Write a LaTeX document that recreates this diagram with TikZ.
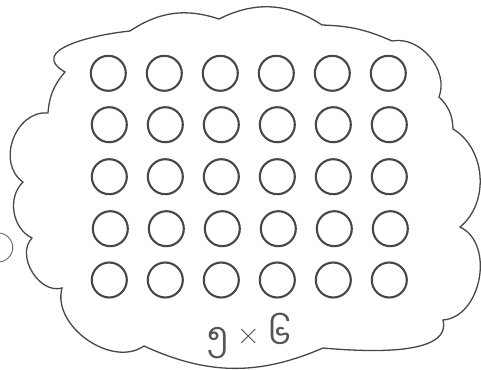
\documentclass[tikz,border=0pt]{standalone}
\usepackage{fontspec}
\usepackage{graphicx}
\newfontfamily\myfont[Script=Myanmar]{Noto Sans Myanmar UI}
\definecolor{ink}{HTML}{474747}
\definecolor{txt}{HTML}{555555}
\begin{document}
\begin{tikzpicture}[x=1pt,y=1pt,
  cloudline/.style={draw=ink,line width=1.3pt,line join=miter},
  dot/.style={circle,draw=ink,line width=2.1pt,minimum size=35pt,inner sep=0pt},
  bubble/.style={circle,draw=ink!85,line width=0.9pt,minimum size=29pt,inner sep=0pt}]
\useasboundingbox (0,0) rectangle (481,-369);
% cusp points of the cloud
\coordinate (A) at (130,-31);
\coordinate (B) at (219,-19);
\coordinate (C) at (322,-25);
\coordinate (D) at (392,-41);
\coordinate (E) at (439,-97);
\coordinate (F) at (453,-129);
\coordinate (G) at (460,-227);
\coordinate (H) at (443,-320);
\coordinate (I) at (323,-348);
\coordinate (J) at (144,-346);
\coordinate (K) at (62,-288);
\coordinate (L) at (32,-238);
\coordinate (M) at (23,-182);
\coordinate (N) at (48,-113);
\coordinate (O) at (65,-72);
\draw[cloudline] (A) to[bend left=26] (B) to[bend left=30] (C)
  to[bend left=11] (D) to[bend left=61] (E) to[bend left=22] (F)
  to[bend left=55] (G) to[bend left=75,looseness=1.05] (H)
  to[out=-76,in=-5,looseness=0.8] (I) to[bend left=24] (J)
  to[bend left=70] (K) to[bend left=75,looseness=1.05] (L)
  to[bend left=55] (M) to[bend left=75,looseness=1.15] (N)
  to[bend left=18] (O) to[out=150,in=186,looseness=1.4] (A) -- cycle;
\node[bubble] (tb) at (-1.8,-247.5) {};
% grid of circles
\foreach \r/\y/\dx in {1/73.3/0,2/124.7/1,3/176.7/1,4/228.7/2,5/280/1}{
  \foreach \c in {1,...,6}{
    \node[dot] (c\r\c) at ({108.3+56*(\c-1)+\dx},-\y) {};
  }
}
\node[text=txt,font=\fontsize{32}{32}\selectfont,anchor=base,inner sep=0pt] (lbl) at (249,-349)
  {\scalebox{1}[1.08]{\myfont ၅}\hspace{8pt}{\fontspec{Latin Modern Roman}\raisebox{4.5pt}{×}}\hspace{8pt}\scalebox{1}[1.08]{\myfont ၆}};
\end{tikzpicture}
\end{document}
